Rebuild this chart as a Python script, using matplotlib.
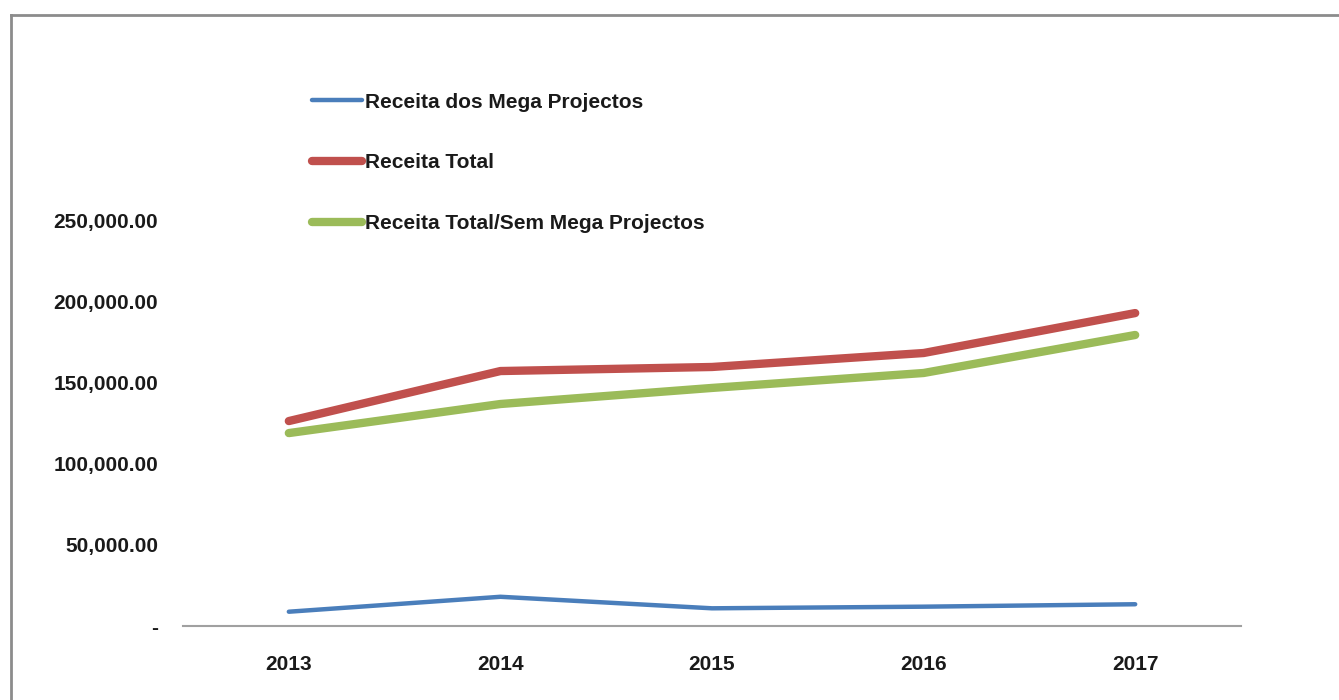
import matplotlib
matplotlib.use("Agg")
import matplotlib.pyplot as plt
from matplotlib.lines import Line2D
from matplotlib.ticker import FuncFormatter

# Daten
anos = ["2013", "2014", "2015", "2016", "2017"]
receita_mega = [8800, 18000, 10900, 11900, 13400]
receita_total = [126200, 157000, 159500, 168100, 192700]
receita_sem_mega = [118800, 136700, 146600, 155800, 179200]

nomes = ["Receita dos Mega Projectos", "Receita Total", "Receita Total/Sem Mega Projectos"]
y_ticks = [0, 50000, 100000, 150000, 200000, 250000]

plt.rcParams["font.family"] = ["Liberation Sans", "DejaVu Sans"]

fig = plt.figure(figsize=(13.39, 7), dpi=100)
ax = fig.add_axes([0.1367, 0.1057, 0.7901, 0.58])

x = range(len(anos))
ax.plot(x, receita_mega, color="#4a7ebb", lw=3.2, solid_capstyle="round", label=nomes[0])
ax.plot(x, receita_total, color="#c0504d", lw=6, solid_capstyle="round", label=nomes[1])
ax.plot(x, receita_sem_mega, color="#9bbb59", lw=6, solid_capstyle="round", label=nomes[2])

ax.set_xlim(-0.5, len(anos) - 0.5)
ax.set_ylim(0, 250000)
ax.set_xticks(list(x))
ax.set_xticklabels(anos)
ax.set_yticks(y_ticks)
ax.yaxis.set_major_formatter(FuncFormatter(lambda v, p: "-" if v == 0 else f"{v:,.2f}"))

for s in ["top", "right", "left"]:
    ax.spines[s].set_visible(False)
ax.spines["bottom"].set_color("#a0a0a0")
ax.spines["bottom"].set_linewidth(1.5)
ax.tick_params(axis="both", length=0, labelsize=15)
ax.tick_params(axis="y", pad=18)
ax.tick_params(axis="x", pad=21)
for lbl in ax.get_xticklabels() + ax.get_yticklabels():
    lbl.set_fontweight("bold")
    lbl.set_color("#1a1a1a")

# Legende oben links
leg = ax.legend(loc="upper left", bbox_to_anchor=(293 / 1339, 1 - 74 / 700),
                bbox_transform=fig.transFigure, frameon=False, fontsize=15,
                handlelength=2.4, handletextpad=0.15, labelspacing=2.0)
for t in leg.get_texts():
    t.set_fontweight("bold")
    t.set_color("#1a1a1a")

# Rahmen (oben und links)
fig.add_artist(Line2D([11 / 1339, 1], [1 - 15 / 700, 1 - 15 / 700], transform=fig.transFigure,
                      color="#8c8c8c", lw=2))
fig.add_artist(Line2D([11 / 1339, 11 / 1339], [0, 1 - 15 / 700], transform=fig.transFigure,
                      color="#8c8c8c", lw=2))

fig.savefig("out.png", dpi=100)
